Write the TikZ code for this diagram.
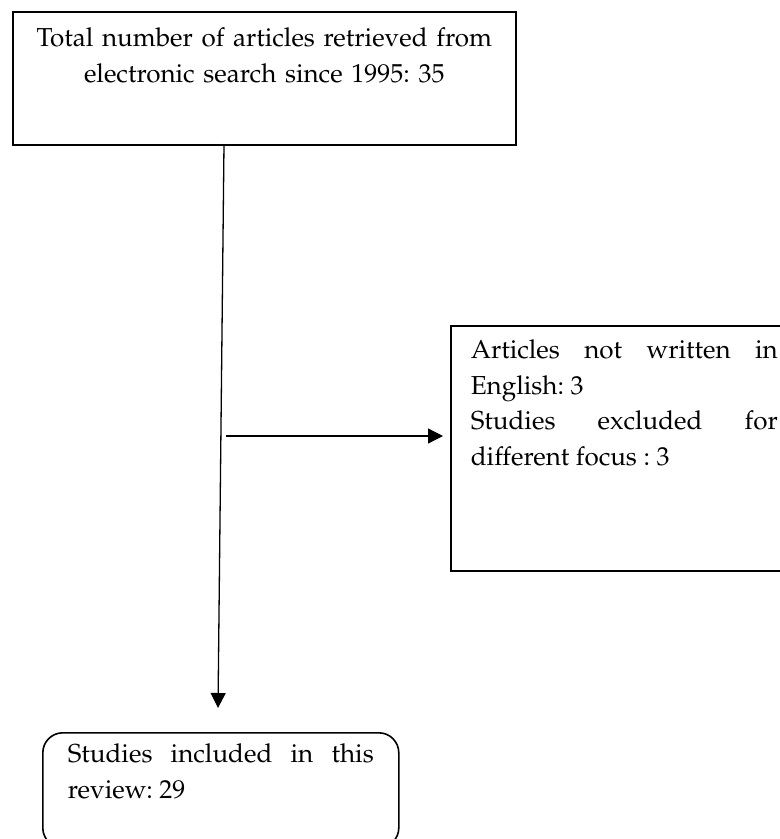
\documentclass[tikz,border=0pt]{standalone}
\usepackage[T1]{fontenc}
\usepackage{mathpazo}
\usetikzlibrary{arrows.meta}
\tikzset{
  flowbox/.style={draw, line width=1.6pt, inner ysep=0pt, anchor=north west,
    font=\fontsize{26}{35.5}\selectfont,
    execute at begin node={\frenchspacing\hyphenpenalty=10000\relax\tolerance=10000\relax}},
  flowarrow/.style={line width=1.3pt, -{Triangle[length=15pt,width=15pt]}}
}
\begin{document}
\begin{tikzpicture}[x=1pt,y=-1pt]
\useasboundingbox (0,0) rectangle (780,839);
% boxes
\node[flowbox, inner xsep=20pt, text width=463pt, align=center,
  text height=35pt, text depth=98pt] (total) at (12,11)
  {Total number of articles retrieved from\\ electronic search since 1995: 35};
\node[flowbox, inner xsep=20pt, text width=307pt, align=justify,
  text height=33pt, text depth=212pt] (excluded) at (450,325)
  {Articles not written in English: 3\\ Studies excluded for different focus : 3};
\node[flowbox, rounded corners=20pt, inner xsep=25pt, text width=306pt, align=justify,
  text height=30pt, text depth=85pt] (included) at (42,732)
  {Studies included in this review: 29};
% arrows
\coordinate (stemtop) at (224,144);
\coordinate (stemend) at (218,708);
\coordinate (branch) at (226,436);
\draw[flowarrow] (stemtop) -- (stemend);
\draw[flowarrow, shorten >=7pt] (branch) -- (branch -| excluded.west);
\end{tikzpicture}
\end{document}
